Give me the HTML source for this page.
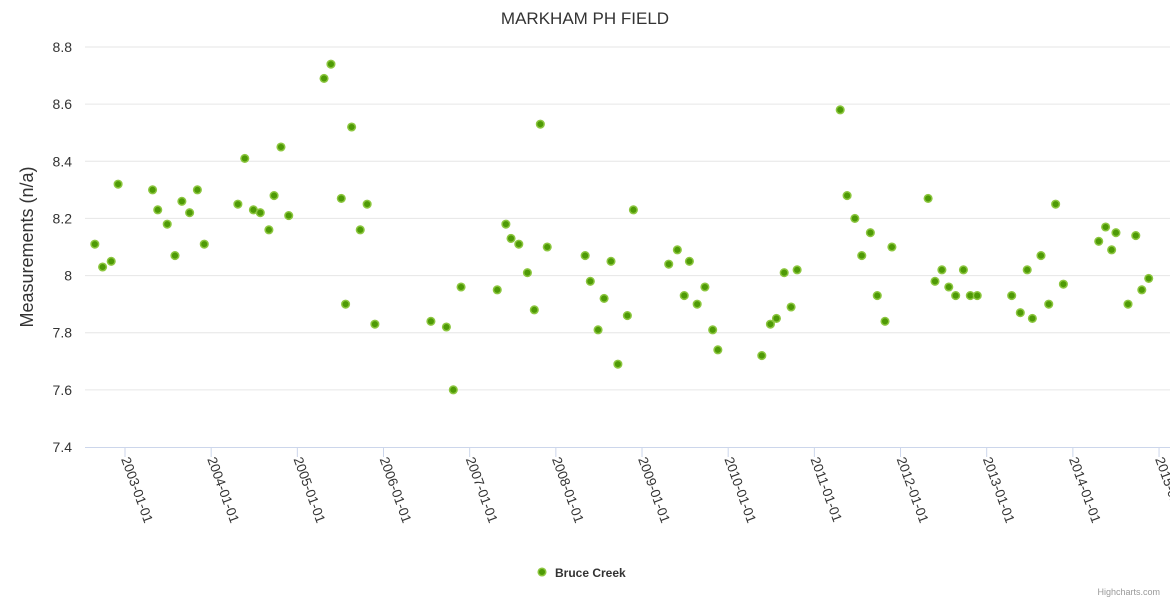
<!DOCTYPE html>
<html><head><meta charset="utf-8"><style>
html,body{margin:0;padding:0;background:#fff;}
svg{display:block;font-family:"Liberation Sans","DejaVu Sans",sans-serif;}
</style></head><body>
<svg id="chart" width="1170" height="600">
<rect width="1170" height="600" fill="#fff"/>
<text x="585" y="24" text-anchor="middle" font-size="17" fill="#333">MARKHAM PH FIELD</text>
<text transform="translate(33,247) rotate(-90)" text-anchor="middle" font-size="18" fill="#333">Measurements (n/a)</text>
<g id="grid"></g><g id="xaxis"></g><g id="pts"></g>
<g>
<circle cx="542" cy="572" r="3.8" fill="#4e9a06" stroke="#8cc63f" stroke-width="1.5"/>
<text x="555" y="577" font-size="12" font-weight="bold" fill="#333">Bruce Creek</text>
</g>
<text x="1160" y="595" text-anchor="end" font-size="9" fill="#999">Highcharts.com</text>
</svg>
<script>
const dates=[2002.65,2002.74,2002.84,2002.92,2003.32,2003.38,2003.49,2003.58,2003.66,2003.75,2003.84,2003.92,2004.31,2004.39,2004.49,2004.57,2004.67,2004.73,2004.81,2004.90,2005.31,2005.39,2005.51,2005.56,2005.63,2005.73,2005.81,2005.90,2006.55,2006.73,2006.81,2006.90,2007.32,2007.42,2007.48,2007.57,2007.67,2007.75,2007.82,2007.90,2008.34,2008.40,2008.49,2008.56,2008.64,2008.72,2008.83,2008.90,2009.31,2009.41,2009.49,2009.55,2009.64,2009.73,2009.82,2009.88,2010.39,2010.49,2010.56,2010.65,2010.73,2010.80,2011.30,2011.38,2011.47,2011.55,2011.65,2011.73,2011.82,2011.90,2012.32,2012.40,2012.48,2012.56,2012.64,2012.73,2012.81,2012.89,2013.29,2013.39,2013.47,2013.53,2013.63,2013.72,2013.80,2013.89,2014.30,2014.38,2014.45,2014.50,2014.64,2014.73,2014.80,2014.88];
const values=[8.11,8.03,8.05,8.32,8.30,8.23,8.18,8.07,8.26,8.22,8.30,8.11,8.25,8.41,8.23,8.22,8.16,8.28,8.45,8.21,8.69,8.74,8.27,7.90,8.52,8.16,8.25,7.83,7.84,7.82,7.60,7.96,7.95,8.18,8.13,8.11,8.01,7.88,8.53,8.10,8.07,7.98,7.81,7.92,8.05,7.69,7.86,8.23,8.04,8.09,7.93,8.05,7.90,7.96,7.81,7.74,7.72,7.83,7.85,8.01,7.89,8.02,8.58,8.28,8.20,8.07,8.15,7.93,7.84,8.10,8.27,7.98,8.02,7.96,7.93,8.02,7.93,7.93,7.93,7.87,8.02,7.85,8.07,7.90,8.25,7.97,8.12,8.17,8.09,8.15,7.90,8.14,7.95,7.99];
const yTicks=[7.4,7.6,7.8,8,8.2,8.4,8.6,8.8];
const yLabels=["7.4","7.6","7.8","8","8.2","8.4","8.6","8.8"];
const xTicks=[2003,2004,2005,2006,2007,2008,2009,2010,2011,2012,2013,2014,2015];
const NS="http://www.w3.org/2000/svg";
const xS=d=>125+(d-2003)*86.17;
const yS=v=>447-(v-7.4)*(400/1.4);
function mk(t,a,p){const e=document.createElementNS(NS,t);for(const k in a)e.setAttribute(k,a[k]);p.appendChild(e);return e;}
const g=document.getElementById('grid');
yTicks.forEach((t,i)=>{
  const y=yS(t);
  if(i>0){const l=mk('line',{x1:85,x2:1170,y1:y,y2:y,stroke:'#e6e6e6','stroke-width':1},g);
  
  }
  const tx=mk('text',{x:72,y:y+5,'text-anchor':'end','font-size':14,fill:'#333'},g);
  tx.textContent=yLabels[i];
  
  
});
const xa=document.getElementById('xaxis');
const ax=mk('line',{x1:85,x2:1170,y1:447.5,y2:447.5,stroke:'#ccd6eb','stroke-width':1},xa);


xTicks.forEach(t=>{
  const x=xS(t);
  const tk=mk('line',{x1:x,x2:x,y1:447,y2:457,stroke:'#ccd6eb','stroke-width':1},xa);
  
  
  const tx=mk('text',{transform:`translate(${x-4},459) rotate(70)`,'font-size':13.5,fill:'#333'},xa);
  tx.textContent=t+'-01-01';
  
  
});
const pg=document.getElementById('pts');
dates.forEach((d,i)=>{
  const c=mk('circle',{cx:xS(d),cy:yS(values[i]),r:3.8,fill:'#4e9a06',stroke:'#8cc63f','stroke-width':1.5},pg);
  
  
});
</script>
</body></html>
